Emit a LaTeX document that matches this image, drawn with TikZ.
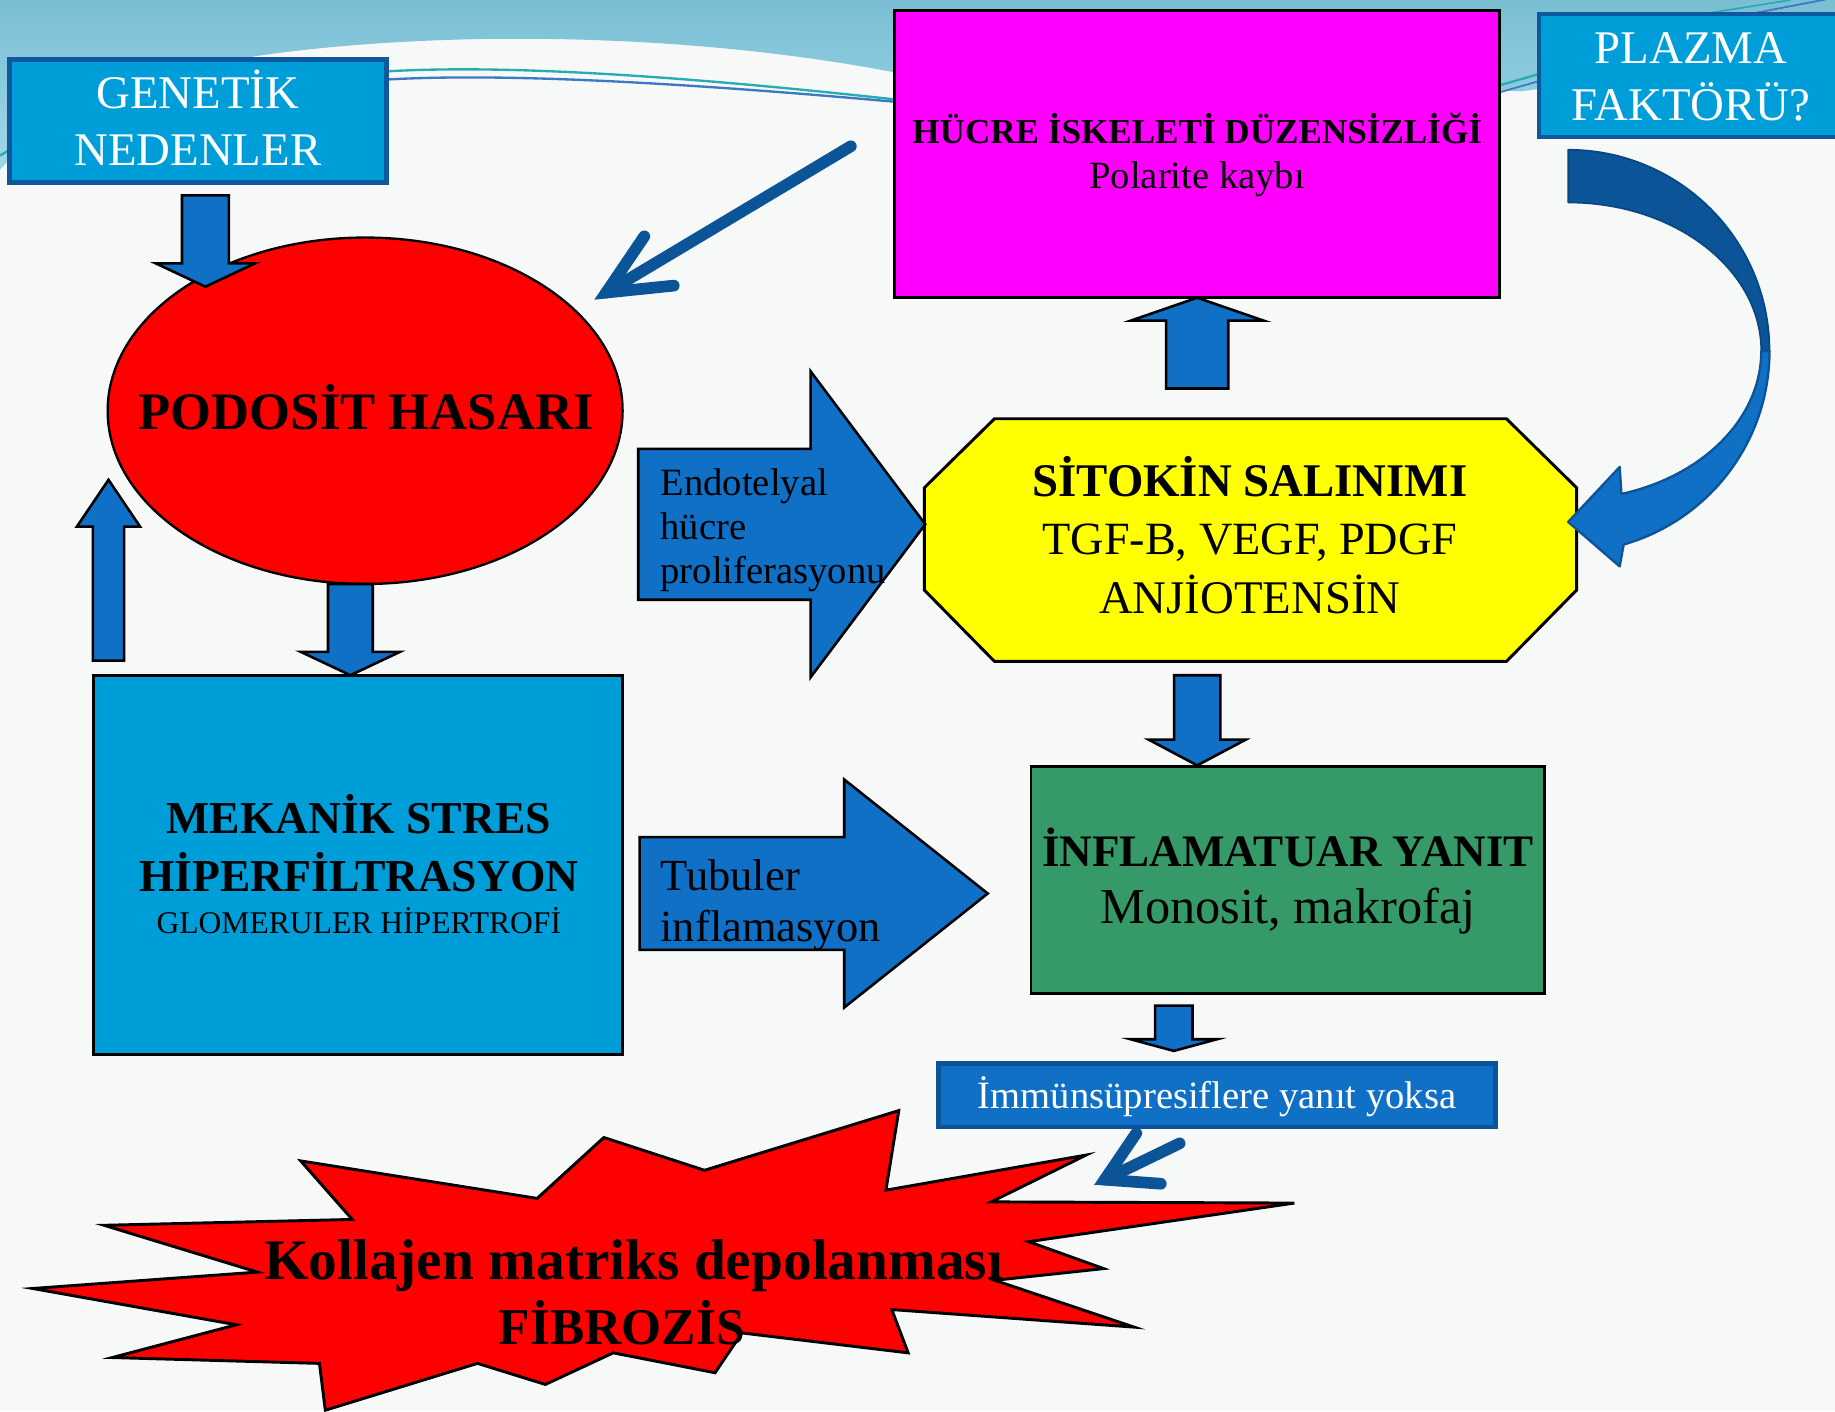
\documentclass[tikz,border=0pt]{standalone}
\usepackage{fontspec}
\setmainfont{Liberation Serif}
\usetikzlibrary{shapes.geometric,calc}
\definecolor{bgc}{RGB}{247,248,248}
\definecolor{wavedark}{RGB}{122,190,212}
\definecolor{wavelight}{RGB}{158,216,232}
\definecolor{cyanbox}{RGB}{0,158,216}
\definecolor{cyanedge}{RGB}{14,88,158}
\definecolor{blockblue}{RGB}{16,112,198}
\definecolor{darkblue}{RGB}{11,84,152}
\definecolor{magbox}{RGB}{255,0,255}
\definecolor{yelbox}{RGB}{255,255,0}
\definecolor{grnbox}{RGB}{54,154,104}
\definecolor{tealline}{RGB}{40,172,180}
\definecolor{blueline}{RGB}{60,120,196}
\newcommand{\fsz}[1]{\fontsize{#1}{#1}\selectfont}
\newcommand{\vblock}[6]{\draw[blockarr] (#1-#5,#2) -- (#1+#5,#2) -- (#1+#5,#3) -- (#1+#6,#3) -- (#1,#4) -- (#1-#6,#3) -- (#1-#5,#3) -- cycle;}
\newcommand{\hblock}[6]{\draw[blockarr] (#2,#1-#5) -- (#3,#1-#5) -- (#3,#1-#6) -- (#4,#1) -- (#3,#1+#6) -- (#3,#1+#5) -- (#2,#1+#5) -- cycle;}
\tikzset{
  tagbox/.style={draw=cyanedge, fill=cyanbox, line width=4pt, inner sep=0pt},
  plainbox/.style={draw=black, line width=2.5pt, inner sep=0pt},
  blockarr/.style={draw=black, fill=blockblue, line width=2.2pt, line join=miter},
  chevron/.style={draw=darkblue, line width=10pt, line cap=round, line join=miter},
  lbl/.style={anchor=base, inner sep=0pt, outer sep=0pt},
  lblw/.style={anchor=base west, inner sep=0pt, outer sep=0pt},
}
\begin{document}
\begin{tikzpicture}[x=1pt,y=-1pt]
\useasboundingbox (0,0) rectangle (1568,1206);
\clip (0,0) rectangle (1568,1206);
% background
\fill[bgc] (0,0) rectangle (1568,1206);
\shade[top color=wavedark, bottom color=wavelight] (0,0) -- (0,145) .. controls (40,100) and (120,60) .. (240,45) .. controls (400,25) and (600,30) .. (765,62) -- (1300,78) .. controls (1420,62) and (1500,40) .. (1568,25) -- (1568,0) -- cycle;
\draw[tealline, line width=2pt] (330,61) .. controls (400,57) and (520,58) .. (765,85);
\draw[blueline, line width=2pt] (330,68) .. controls (400,64) and (520,65) .. (765,87);
\draw[tealline, line width=2pt] (0,133) -- (10,127);
\draw[tealline, line width=2pt] (1281,73) -- (1316,63);
\draw[blueline, line width=1.5pt] (1281,79) -- (1316,69);
\draw[tealline, line width=1.5pt] (1455,12) -- (1530,0);
\draw[blueline, line width=1.5pt] (1495,12) -- (1568,-2);

% boxes
\node[tagbox, minimum width=322pt, minimum height=105pt] (gen) at (169,103.5) {};
\node[plainbox, fill=magbox, minimum width=517pt, minimum height=245pt] (huc) at (1022.5,131.5) {};
\node[tagbox, minimum width=275pt, minimum height=105pt] (plz) at (1452.5,64.5) {};
\node[plainbox, ellipse, fill=red, line width=2pt, minimum width=440pt, minimum height=296pt] (pod) at (312,351) {};
\node[plainbox, fill=cyanbox, minimum width=452pt, minimum height=324pt] (mek) at (306,739) {};
\node[inner sep=0pt, minimum width=557pt, minimum height=207pt] (sit) at (1068.5,461.5) {};
\draw[plainbox, fill=yelbox] ($(sit.north west)+(60,0)$) -- ($(sit.north east)+(-60,0)$) -- ($(sit.north east)+(0,59)$) -- ($(sit.south east)+(0,-61)$) -- ($(sit.south east)+(-60,0)$) -- ($(sit.south west)+(60,0)$) -- ($(sit.south west)+(0,-61)$) -- ($(sit.north west)+(0,59)$) -- cycle;
\node[plainbox, fill=grnbox, minimum width=439pt, minimum height=194pt] (inf) at (1100.5,752) {};
\node[draw=darkblue, fill=blockblue, line width=4pt, inner sep=0pt, minimum width=476pt, minimum height=54pt] (imm) at (1040,936) {};

% block arrows
\vblock{175.5}{167}{225}{245}{20}{42.5}
\vblock{299.4}{499}{557}{577}{19.1}{42.4}
\vblock{92.7}{564.5}{450}{410}{13.3}{27}
\vblock{1023}{332}{274}{254.4}{26.5}{56.8}
\vblock{1023}{577}{632}{654}{19.8}{41.5}
\vblock{1003}{859.3}{888}{898}{16}{37}
\hblock{448}{545.4}{692.6}{790.6}{64.5}{130.8}
\hblock{763.5}{546.5}{721.4}{844}{48.2}{97.4}

% curved arrow from PLAZMA
\draw[fill=darkblue, draw=darkblue!85!black, line width=1.5pt, line join=round] (1340,128) .. controls (1435,128) and (1512,205) .. (1512,300) -- (1505,300) .. controls (1505,230) and (1431,173) .. (1340,173) -- cycle;
\draw[fill=blockblue, draw=darkblue, line width=2pt, line join=round] (1512,300) .. controls (1512,376.7) and (1461.1,444.1) .. (1387.4,465.3) -- (1384,484) -- (1340,446) -- (1384,399) -- (1385.5,422.1) .. controls (1456.2,406.5) and (1505,356.6) .. (1505,300) -- cycle;

% star
\draw[fill=red, draw=black, line width=2.5pt, line join=miter] (257,992) -- (301,1042) -- (89,1047) -- (220,1087) -- (28,1101) -- (202,1132) -- (96,1160) -- (273,1165) -- (278,1205) -- (408,1165) -- (466,1183) -- (524,1156) -- (611,1173) -- (634,1139) -- (776,1156) -- (762,1119) -- (969,1134) -- (850,1094) -- (943,1084) -- (879,1061) -- (1106,1028) -- (847,1027) -- (928,987) -- (757,1017) -- (768,949) -- (602,1000) -- (516,972) -- (459,1024) -- cycle;

% chevron arrows
\coordinate (bigS) at (727,125);
\coordinate (bigT) at (518,250);
\draw[chevron] (bigS) -- (bigT);
\draw[chevron] ($(bigT)!58pt!25:(bigS)$) -- (bigT) -- ($(bigT)!58pt!-25:(bigS)$);
\coordinate (smS) at (1008,977);
\coordinate (smT) at (944,1008);
\draw[chevron] (smS) -- (smT);
\draw[chevron] ($(smT)!48pt!30:(smS)$) -- (smT) -- ($(smT)!48pt!-30:(smS)$);

% texts
\node[lbl, text=white] (gen1) at (169,92.6) {\fsz{40}GENETİK};
\node[lbl, text=white] (gen2) at (169,141.6) {\fsz{40}NEDENLER};
\node[lbl] (huc1) at (1023,122.5) {\fsz{30}\bfseries HÜCRE İSKELETİ DÜZENSİZLİĞİ};
\node[lbl] (huc2) at (1023,161) {\fsz{33}Polarite kaybı};
\node[lbl, text=white] (plz1) at (1445,54) {\fsz{40}PLAZMA};
\node[lbl, text=white] (plz2) at (1445,103) {\fsz{40}FAKTÖRÜ?};
\node[lbl] (pod1) at (313,366.6) {\fsz{45}\bfseries PODOSİT HASARI};
\node[lbl] (mek1) at (306.6,712) {\fsz{39}\bfseries MEKANİK STRES};
\node[lbl] (mek2) at (306.6,761.4) {\fsz{39}\bfseries HİPERFİLTRASYON};
\node[lbl] (mek3) at (306.6,798) {\fsz{27}GLOMERULER HİPERTROFİ};
\node[lblw] (end1) at (564.5,423) {\fsz{33}Endotelyal};
\node[lblw] (end2) at (564.5,460.8) {\fsz{33}hücre};
\node[lblw] (end3) at (564.5,499) {\fsz{33}proliferasyonu};
\node[lbl] (sit1) at (1068,424.4) {\fsz{40}\bfseries SİTOKİN SALINIMI};
\node[lbl] (sit2) at (1068,474) {\fsz{39.5}TGF-B, VEGF, PDGF};
\node[lbl] (sit3) at (1068,524) {\fsz{40}ANJİOTENSİN};
\node[lbl] (inf1) at (1100.6,740.6) {\fsz{38.5}\bfseries İNFLAMATUAR YANIT};
\node[lbl] (inf2) at (1100.6,789.5) {\fsz{43}Monosit, makrofaj};
\node[lblw] (tub1) at (564.5,760.5) {\fsz{38}Tubuler};
\node[lblw] (tub2) at (564.5,804.6) {\fsz{38}inflamasyon};
\node[lbl, text=white] (imm1) at (1040,947) {\fsz{33}İmmünsüpresiflere yanıt yoksa};
\node[lbl] (kol1) at (541.4,1093.7) {\fsz{49}\bfseries Kollajen matriks depolanması};
\node[lbl] (kol2) at (531.4,1149) {\fsz{44}\bfseries FİBROZİS};
\end{tikzpicture}
\end{document}
